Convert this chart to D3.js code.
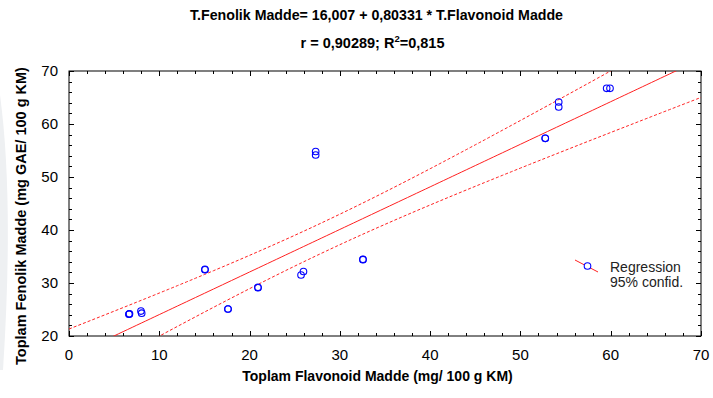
<!DOCTYPE html>
<html>
<head>
<meta charset="utf-8">
<script src="https://cdn.jsdelivr.net/npm/d3@7"></script>
<style>
  body { margin: 0; background: #fff; }
  svg { display: block; }
  text { font-family: Arial, "Liberation Sans", sans-serif; }
  .title { font-family: "Liberation Sans Narrow", "Arial Narrow", Arial, sans-serif; font-weight: bold; font-size: 14px; }
  .title2 { font-family: Arial, "Liberation Sans", sans-serif; font-weight: bold; font-size: 14.5px; }
  .axtitle { font-family: "Liberation Sans Narrow", "Arial Narrow", Arial, sans-serif; font-weight: bold; font-size: 14px; }
</style>
</head>
<body>
<div id="graph"></div>
<script>
var flavonoid = [6.65, 6.65, 6.70,  7.97, 8.05,  15.06, 15.06,
                 17.61, 17.61,  20.93, 20.93,  25.70, 25.97,
                 27.32, 27.32,  32.56, 32.56,  52.75, 52.75,
                 54.24, 54.24,  59.55, 59.92];
var fenolik   = [24.15, 24.10, 24.20,  24.70, 24.30,  32.58, 32.50,
                 25.09, 25.09,  29.19, 29.10,  31.51, 32.17,
                 54.81, 54.15,  34.47, 34.40,  57.30, 57.30,
                 64.15, 63.21,  66.74, 66.74];
var intercept = 16.007;
var slope = 0.80331;
var xTicks = [0, 10, 20, 30, 40, 50, 60, 70];
var yTicks = [20, 30, 40, 50, 60, 70];
var legendLabels = ["Regression", "95% confid."];

//----------------------------------------------------------
var W = 713, H = 398;
var g_svg = d3.select("#graph")
  .append("svg")
    .attr("width", W)
    .attr("height", H);

// faint page edge at far left
g_svg.append("path")
    .attr("d", "M0,95 Q14,200 3,370 L0,370 Z")
    .attr("fill", "#eef0f2");

var x = d3.scaleLinear().domain([0, 70]).range([69, 701]);
var y = d3.scaleLinear().domain([20, 70]).range([336, 71]);

var plot = g_svg.append("g");

plot.append("rect")
    .attr("x", x(0)).attr("y", y(70))
    .attr("width", x(70) - x(0)).attr("height", y(20) - y(70))
    .attr("fill", "#fff").attr("stroke", "#000").attr("stroke-width", 1);

// ticks: inside, major + minor on all four sides
var xMinor = d3.range(0, 70.01, 2);
var yMinor = d3.range(20, 70.01, 2);
var ticks = plot.append("g").attr("stroke", "#000").attr("stroke-width", 1);
xMinor.forEach(function (v) {
    var len = (v % 10 === 0) ? 5 : 3;
    var px = Math.round(x(v)) + 0.5;
    ticks.append("line").attr("x1", px).attr("x2", px).attr("y1", y(20)).attr("y2", y(20) - len);
    ticks.append("line").attr("x1", px).attr("x2", px).attr("y1", y(70)).attr("y2", y(70) + len);
});
yMinor.forEach(function (v) {
    var len = (v % 10 === 0) ? 5 : 3;
    var py = Math.round(y(v)) + 0.5;
    ticks.append("line").attr("y1", py).attr("y2", py).attr("x1", x(0)).attr("x2", x(0) + len);
    ticks.append("line").attr("y1", py).attr("y2", py).attr("x1", x(70)).attr("x2", x(70) - len);
});

// tick labels
g_svg.append("g").selectAll("text").data(xTicks).join("text")
    .attr("x", function (d) { return x(d); })
    .attr("y", 360)
    .attr("text-anchor", "middle")
    .attr("font-size", 15)
    .text(function (d) { return d; });
g_svg.append("g").selectAll("text").data(yTicks).join("text")
    .attr("x", 58)
    .attr("y", function (d) { return y(d) + 5; })
    .attr("text-anchor", "end")
    .attr("font-size", 15)
    .text(function (d) { return d; });

// regression + 95% confidence band
var n = flavonoid.length;
var xbar = d3.mean(flavonoid);
var sxx = d3.sum(flavonoid, function (v) { return (v - xbar) * (v - xbar); });
var sse = d3.sum(flavonoid, function (v, i) {
    var r = fenolik[i] - (intercept + slope * v);
    return r * r;
});
var s = Math.sqrt(sse / (n - 2));
var df = n - 2, z = 1.959964;
var tq = z + (Math.pow(z, 3) + z) / (4 * df) +
    (5 * Math.pow(z, 5) + 16 * Math.pow(z, 3) + 3 * z) / (96 * df * df);

function Fit(v) { return intercept + slope * v; }
function Band(v, sign) {
    return Fit(v) + sign * tq * s * Math.sqrt(1 / n + (v - xbar) * (v - xbar) / sxx);
}

g_svg.append("clipPath").attr("id", "clip")
  .append("rect")
    .attr("x", x(0)).attr("y", y(70))
    .attr("width", x(70) - x(0)).attr("height", y(20) - y(70));

var grid = d3.range(0, 70.01, 0.5);
var lines = g_svg.append("g").attr("clip-path", "url(#clip)");
var line = d3.line()
    .x(function (d) { return x(d[0]); })
    .y(function (d) { return y(d[1]); });

lines.append("path")
    .attr("d", line(grid.map(function (v) { return [v, Fit(v)]; })))
    .attr("fill", "none").attr("stroke", "#ff2020").attr("stroke-width", 1);
[1, -1].forEach(function (sg) {
    lines.append("path")
        .attr("d", line(grid.map(function (v) { return [v, Band(v, sg)]; })))
        .attr("fill", "none").attr("stroke", "#ff2020").attr("stroke-width", 1)
        .attr("stroke-dasharray", "3,2");
});

// points
g_svg.append("g").selectAll("circle").data(flavonoid).join("circle")
    .attr("cx", function (d) { return x(d); })
    .attr("cy", function (d, i) { return y(fenolik[i]); })
    .attr("r", 3.3)
    .attr("fill", "none")
    .attr("stroke", "#0000ff")
    .attr("stroke-width", 1.1);

// legend
var lg = g_svg.append("g");
lg.append("line")
    .attr("x1", 575).attr("y1", 260).attr("x2", 598).attr("y2", 272)
    .attr("stroke", "#ff2020").attr("stroke-width", 1);
lg.append("circle")
    .attr("cx", 587.5).attr("cy", 266).attr("r", 3.3)
    .attr("fill", "#fff").attr("stroke", "#0000ff").attr("stroke-width", 1.1);
lg.selectAll("text").data(legendLabels).join("text")
    .attr("x", 610)
    .attr("y", function (d, i) { return 272 + i * 15; })
    .attr("font-size", 14)
    .attr("fill", "#222")
    .text(function (d) { return d; });

// titles
g_svg.append("text").attr("class", "title")
    .attr("x", 376.5).attr("y", 20).attr("text-anchor", "middle")
    .attr("textLength", 373).attr("lengthAdjust", "spacingAndGlyphs")
    .text("T.Fenolik Madde= 16,007 + 0,80331 * T.Flavonoid Madde");
var t2 = g_svg.append("text").attr("class", "title2")
    .attr("x", 372.5).attr("y", 48).attr("text-anchor", "middle");
t2.append("tspan").text("r = 0,90289; R");
t2.append("tspan").attr("dy", -6).attr("font-size", 9.5).text("2");
t2.append("tspan").attr("dy", 6).text("=0,815");

g_svg.append("text").attr("class", "axtitle")
    .attr("x", 377.5).attr("y", 381).attr("text-anchor", "middle")
    .text("Toplam Flavonoid Madde (mg/ 100 g KM)");
g_svg.append("text").attr("class", "axtitle")
    .attr("transform", "translate(26,216) rotate(-90)")
    .attr("text-anchor", "middle")
    .style("font-size", "14.5px")
    .text("Toplam Fenolik Madde (mg GAE/ 100 g KM)");
</script>
</body>
</html>
